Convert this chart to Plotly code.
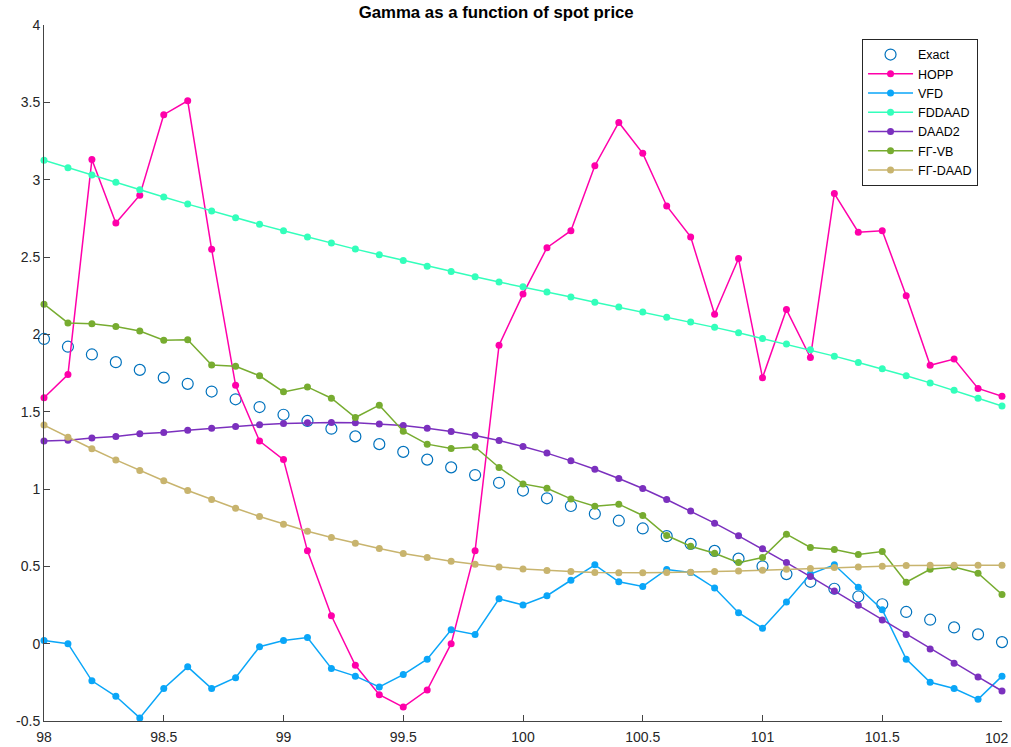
import plotly.graph_objects as go

spot = [98.0, 98.1, 98.2, 98.3, 98.4, 98.5, 98.6, 98.7, 98.8, 98.9,
        99.0, 99.1, 99.2, 99.3, 99.4, 99.5, 99.6, 99.7, 99.8, 99.9,
        100.0, 100.1, 100.2, 100.3, 100.4, 100.5, 100.6, 100.7, 100.8, 100.9,
        101.0, 101.1, 101.2, 101.3, 101.4, 101.5, 101.6, 101.7, 101.8, 101.9,
        102.0]

exact = [1.97, 1.92, 1.87, 1.82, 1.77, 1.72, 1.68, 1.63, 1.58, 1.53,
         1.48, 1.44, 1.39, 1.34, 1.29, 1.24, 1.19, 1.14, 1.09, 1.04,
         0.99, 0.94, 0.89, 0.84, 0.795, 0.745, 0.695, 0.645, 0.60, 0.55,
         0.50, 0.45, 0.40, 0.355, 0.305, 0.255, 0.205, 0.155, 0.105, 0.06,
         0.01]

hopp = [1.59, 1.74, 3.13, 2.72, 2.90, 3.42, 3.51, 2.55, 1.67, 1.31,
        1.19, 0.60, 0.18, -0.14, -0.33, -0.41, -0.30, 0.00, 0.60, 1.93,
        2.26, 2.56, 2.67, 3.09, 3.37, 3.17, 2.83, 2.63, 2.13, 2.49,
        1.72, 2.16, 1.85, 2.91, 2.66, 2.67, 2.25, 1.80, 1.84, 1.65,
        1.60]

vfd = [0.02, 0.00, -0.24, -0.34, -0.48, -0.29, -0.15, -0.29, -0.22, -0.02,
       0.02, 0.04, -0.16, -0.21, -0.28, -0.20, -0.10, 0.09, 0.06, 0.29,
       0.25, 0.31, 0.41, 0.51, 0.40, 0.37, 0.48, 0.46, 0.36, 0.20,
       0.10, 0.27, 0.45, 0.51, 0.365, 0.22, -0.10, -0.25, -0.29, -0.36,
       -0.21]

fddaad = [3.125, 3.077, 3.03, 2.983, 2.935, 2.888, 2.842, 2.797, 2.754, 2.711,
          2.67, 2.629, 2.59, 2.551, 2.514, 2.478, 2.441, 2.407, 2.372, 2.338,
          2.307, 2.273, 2.241, 2.208, 2.176, 2.144, 2.111, 2.079, 2.045, 2.01,
          1.973, 1.937, 1.90, 1.859, 1.818, 1.777, 1.732, 1.686, 1.639, 1.587,
          1.536]

daad2 = [1.311, 1.315, 1.329, 1.34, 1.357, 1.366, 1.38, 1.393, 1.404, 1.415,
         1.424, 1.428, 1.43, 1.428, 1.421, 1.411, 1.393, 1.372, 1.346, 1.314,
         1.275, 1.232, 1.182, 1.128, 1.068, 1.003, 0.932, 0.858, 0.779, 0.697,
         0.613, 0.524, 0.434, 0.341, 0.248, 0.153, 0.059, -0.034, -0.127, -0.215,
         -0.306]

fg_vb = [2.195, 2.074, 2.068, 2.051, 2.021, 1.962, 1.965, 1.801, 1.794, 1.732,
         1.628, 1.66, 1.587, 1.462, 1.542, 1.374, 1.29, 1.262, 1.272, 1.139,
         1.033, 1.005, 0.936, 0.889, 0.902, 0.829, 0.699, 0.63, 0.585, 0.524,
         0.557, 0.708, 0.622, 0.609, 0.576, 0.596, 0.397, 0.481, 0.496, 0.455,
         0.318]

fg_daad = [1.413, 1.335, 1.26, 1.188, 1.12, 1.053, 0.99, 0.932, 0.876, 0.822,
           0.772, 0.727, 0.686, 0.649, 0.615, 0.583, 0.557, 0.533, 0.514, 0.496,
           0.483, 0.473, 0.466, 0.46, 0.458, 0.458, 0.46, 0.462, 0.466, 0.47,
           0.475, 0.481, 0.486, 0.492, 0.496, 0.501, 0.505, 0.507, 0.507, 0.507,
           0.507]

x_ticks = [98, 98.5, 99, 99.5, 100, 100.5, 101, 101.5, 102]
x_labels = ["98", "98.5", "99", "99.5", "100", "100.5", "101", "101.5", "102"]
y_ticks = [-0.5, 0, 0.5, 1, 1.5, 2, 2.5, 3, 3.5, 4]
y_labels = ["-0.5", "0", "0.5", "1", "1.5", "2", "2.5", "3", "3.5", "4"]

series = [
    ("HOPP", hopp, "#FF00AA"),
    ("VFD", vfd, "#0AA6F8"),
    ("FDDAAD", fddaad, "#33FFBB"),
    ("DAAD2", daad2, "#7B30BE"),
    ("F\u0393-VB", fg_vb, "#77AC30"),
    ("F\u0393-DAAD", fg_daad, "#C8B46E"),
]

FONT = "Liberation Sans, Arial, Helvetica, sans-serif"

fig = go.Figure()
fig.add_trace(go.Scatter(
    x=spot, y=exact, name="Exact", mode="markers", cliponaxis=False,
    marker=dict(symbol="circle-open", size=11, color="#0072BD",
                line=dict(width=1.2, color="#0072BD")),
))
for name, vals, col in series:
    fig.add_trace(go.Scatter(
        x=spot, y=vals, name=name, mode="lines+markers", cliponaxis=False,
        line=dict(color=col, width=1.5),
        marker=dict(symbol="circle", size=7, color=col),
    ))

# last x tick label placed as annotation so it stays inside the page
shown_labels = x_labels[:-1] + [""]
fig.add_annotation(x=x_ticks[-1], y=0, xref="x", yref="paper", text=x_labels[-1],
                   showarrow=False, xanchor="center", yanchor="top", xshift=-5, yshift=-7,
                   font=dict(family=FONT, size=14, color="#262626"))

fig.update_layout(
    width=1011, height=747,
    margin=dict(l=44, r=9, t=25, b=26),
    paper_bgcolor="white", plot_bgcolor="white",
    font=dict(family=FONT, size=14, color="#262626"),
    title=dict(text="<b>Gamma as a function of spot price</b>",
               x=0.472, xref="paper", xanchor="center",
               y=1 - 12 / 747, yref="container", yanchor="middle",
               font=dict(family=FONT, size=16.8, color="black")),
    showlegend=True,
    legend=dict(x=0.8539, y=0.98, xanchor="left", yanchor="top",
                bgcolor="white", bordercolor="#262626", borderwidth=1,
                font=dict(family=FONT, size=12.5, color="black"),
                tracegroupgap=0, itemwidth=45),
)
common = dict(showgrid=False, zeroline=False, showline=True, linecolor="#444444",
              linewidth=1, ticks="inside", ticklen=6, tickcolor="#444444",
              tickfont=dict(family=FONT, size=14, color="#262626"),
              automargin=False, ticklabeloverflow="allow")
fig.update_xaxes(range=[98, 102], tickvals=x_ticks, ticktext=shown_labels,
                 ticklabelstandoff=3, **common)
fig.update_yaxes(range=[-0.5, 4], tickvals=y_ticks, ticktext=y_labels, **common)

fig.write_html("out.html",
               config={"displayModeBar": False},
               post_script="document.body.style.margin='0';document.body.style.overflow='hidden';")
